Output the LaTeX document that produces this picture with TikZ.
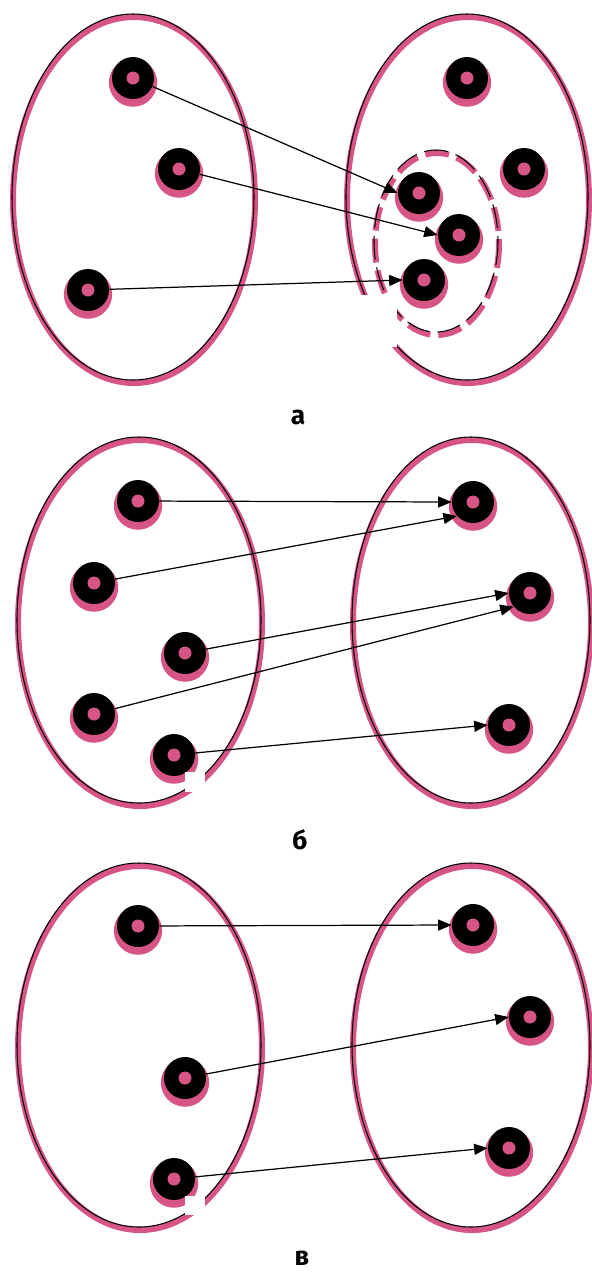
\documentclass[tikz,border=0pt]{standalone}
\usepackage{fontspec}
\setmainfont{Fira Sans}
\usetikzlibrary{arrows.meta,shadows}
\definecolor{rose}{RGB}{214,84,134}

\begin{document}
\begin{tikzpicture}[x=0.02cm, y=-0.02cm,
  dot/.style={circle, fill=black, inner sep=0pt, minimum size=0.84cm,
    general shadow={fill=rose, shadow scale=1.15, shadow yshift=-0.08cm},
    path picture={\fill[rose] (path picture bounding box.center) circle (0.13cm);}},
  arr/.style={-{Triangle[length=0.27cm, width=0.22cm]}, line width=0.7pt},
  rim/.style={draw=rose, line width=0.12cm},
  outline/.style={draw=black, line width=0.6pt},
  patch/.style={fill=white},
  lbl/.style={font=\bfseries\fontsize{15}{18}\selectfont}]
  \useasboundingbox (0,0) rectangle (592,1272);
  % panel a
  \draw[rim] (134,200) ellipse [x radius=121, y radius=183];
  \draw[outline] (133,197) ellipse [x radius=121, y radius=183];
  \draw[rim] (468,200) ellipse [x radius=121, y radius=183];
  \draw[outline] (467,197) ellipse [x radius=121, y radius=183];
  \draw[rim, dash pattern=on 0.48cm off 0.16cm] (437,244) ellipse [x radius=62, y radius=91];
  \draw[outline, dash pattern=on 0.48cm off 0.16cm] (436,241) ellipse [x radius=62, y radius=91];
  \node[dot] (a1) at (133,78) {};
  \node[dot] (a2) at (179,169) {};
  \node[dot] (a3) at (88,290) {};
  \node[dot] (b1) at (467,78) {};
  \node[dot] (b2) at (524,169) {};
  \node[dot] (b3) at (419,193) {};
  \node[dot] (b4) at (459,235) {};
  \node[dot] (b5) at (424,280) {};
  \fill[patch] (360,295) rectangle (397,347);
  \draw[arr] (a1) -- (b3.west);
  \draw[arr] (a2) -- (b4.west);
  \draw[arr] (a3) -- (b5.west);
  \node[lbl] (la) at (298,417) {а};
  % panel b
  \draw[rim] (140,623) ellipse [x radius=122, y radius=183];
  \draw[outline] (139,620) ellipse [x radius=122, y radius=183];
  \draw[rim] (472,623) ellipse [x radius=119, y radius=183];
  \draw[outline] (471,620) ellipse [x radius=119, y radius=183];
  \node[dot] (c1) at (138,501) {};
  \node[dot] (c2) at (94,583) {};
  \node[dot] (c3) at (185,653) {};
  \node[dot] (c4) at (94,714) {};
  \node[dot] (c5) at (174,755) {};
  \node[dot] (d1) at (473,502) {};
  \node[dot] (d2) at (530,593) {};
  \node[dot] (d3) at (509,725) {};
  \fill[patch] (185,772) rectangle (205,792);
  \draw[arr] (c1) -- (d1.west);
  \draw[arr] (c2) -- (d1.221);
  \draw[arr] (c3) -- (d2.west);
  \draw[arr] (c4) -- (d2.220);
  \draw[arr] (c5) -- (d3.west);
  \node[lbl] (lb) at (300,840) {б};
  % panel c
  \draw[rim] (140,1048) ellipse [x radius=122, y radius=182];
  \draw[outline] (139,1045) ellipse [x radius=122, y radius=182];
  \draw[rim] (472,1048) ellipse [x radius=119, y radius=182];
  \draw[outline] (471,1045) ellipse [x radius=119, y radius=182];
  \node[dot] (e1) at (138,926) {};
  \node[dot] (e2) at (185,1078) {};
  \node[dot] (e3) at (174,1179) {};
  \node[dot] (f1) at (473,925) {};
  \node[dot] (f2) at (530,1017) {};
  \node[dot] (f3) at (509,1148) {};
  \fill[patch] (185,1196) rectangle (205,1215);
  \draw[arr] (e1) -- (f1.west);
  \draw[arr] (e2) -- (f2.west);
  \draw[arr] (e3) -- (f3.west);
  \node[lbl] (lc) at (302,1258) {в};
\end{tikzpicture}
\end{document}
